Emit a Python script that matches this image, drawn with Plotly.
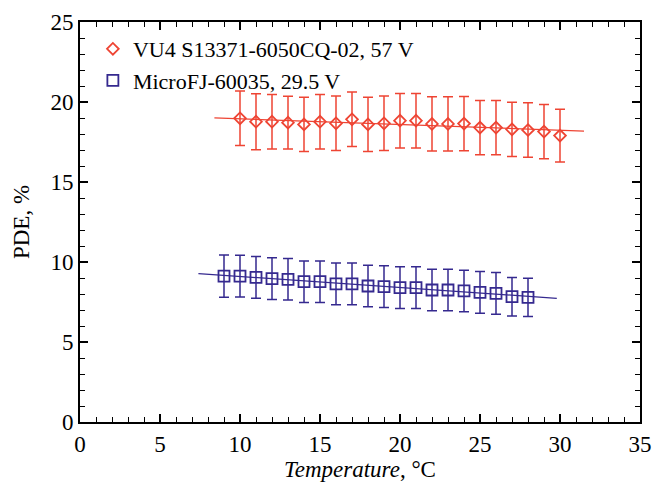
import numpy as np
import plotly.graph_objects as go

# Data
temp_red = [10, 11, 12, 13, 14, 15, 16, 17, 18, 19, 20, 21, 22, 23, 24, 25, 26, 27, 28, 29, 30]
pde_red = [18.98, 18.77, 18.77, 18.71, 18.6, 18.77, 18.67, 18.92, 18.6, 18.67, 18.83,
           18.83, 18.63, 18.63, 18.65, 18.4, 18.4, 18.29, 18.25, 18.15, 17.9]
err_red = [1.7, 1.75, 1.7, 1.65, 1.7, 1.7, 1.7, 1.7, 1.7, 1.7, 1.7,
           1.7, 1.7, 1.7, 1.7, 1.7, 1.7, 1.7, 1.7, 1.7, 1.65]

temp_blue = [9, 10, 11, 12, 13, 14, 15, 16, 17, 18, 19, 20, 21, 22, 23, 24, 25, 26, 27, 28]
pde_blue = [9.12, 9.12, 9.04, 8.96, 8.92, 8.77, 8.77, 8.63, 8.63, 8.5, 8.46, 8.4, 8.4,
            8.25, 8.25, 8.19, 8.1, 8.04, 7.83, 7.79]
err_blue = [1.32, 1.3, 1.3, 1.3, 1.3, 1.3, 1.3, 1.3, 1.3, 1.3, 1.3, 1.3, 1.3,
            1.3, 1.3, 1.3, 1.3, 1.3, 1.2, 1.2]

fit_range_red = [8.4, 31.5]
fit_range_blue = [7.4, 29.8]

name_red = "VU4 S13371-6050CQ-02, 57 V"
name_blue = "MicroFJ-60035, 29.5 V"

x_ticks = [0, 5, 10, 15, 20, 25, 30, 35]
y_ticks = [0, 5, 10, 15, 20, 25]

RED = "#EE4433"
BLUE = "#35298F"
FONT = "Liberation Serif, Times New Roman, serif"
FS = 23

fig = go.Figure()

for tx, py, rng, col in [(temp_red, pde_red, fit_range_red, RED),
                         (temp_blue, pde_blue, fit_range_blue, BLUE)]:
    k, b = np.polyfit(tx, py, 1)
    xs = np.array(rng)
    fig.add_trace(go.Scatter(x=xs, y=k * xs + b, mode="lines",
                             line=dict(color=col, width=1.3), showlegend=False,
                             hoverinfo="skip"))

fig.add_trace(go.Scatter(
    x=temp_red, y=pde_red, mode="markers", name=name_red,
    marker=dict(symbol="diamond-open", size=9, color=RED, line=dict(width=1.8, color=RED)),
    error_y=dict(type="data", array=err_red, color=RED, thickness=1.5, width=5),
))
fig.add_trace(go.Scatter(
    x=temp_blue, y=pde_blue, mode="markers", name=name_blue,
    marker=dict(symbol="square-open", size=11, color=BLUE, line=dict(width=1.8, color=BLUE)),
    error_y=dict(type="data", array=err_blue, color=BLUE, thickness=1.5, width=5),
))

axis_common = dict(
    showline=True, linecolor="black", linewidth=2, mirror="ticks",
    ticks="inside", ticklen=8, tickwidth=1.5, tickcolor="black",
    showgrid=False, zeroline=False, automargin=False,
    tickfont=dict(family=FONT, size=FS, color="black"),
    minor=dict(ticks="inside", ticklen=5, tickwidth=1.2, tickcolor="black", dtick=1, showgrid=False),
)

fig.update_xaxes(range=[0, 35], tickvals=x_ticks, **axis_common,
                 title=dict(text="<i>Temperature</i>, °C", font=dict(family=FONT, size=FS, color="black"),
                            standoff=5))
fig.update_yaxes(range=[0, 25], tickvals=y_ticks, **axis_common,
                 title=dict(text="PDE, %", font=dict(family=FONT, size=FS, color="black"),
                            standoff=14))

fig.update_layout(
    width=653, height=486,
    margin=dict(l=80, r=13, t=22, b=64),
    paper_bgcolor="white", plot_bgcolor="white",
    font=dict(family=FONT, size=FS, color="black"),
    legend=dict(x=0.023, y=0.985, xanchor="left", yanchor="top",
                bgcolor="rgba(0,0,0,0)", font=dict(family=FONT, size=22, color="black"),
                itemsizing="trace", tracegroupgap=0),
)

fig.write_html("out.html", config={"displayModeBar": False},
               post_script="document.body.style.margin='0';document.body.style.padding='0';")
